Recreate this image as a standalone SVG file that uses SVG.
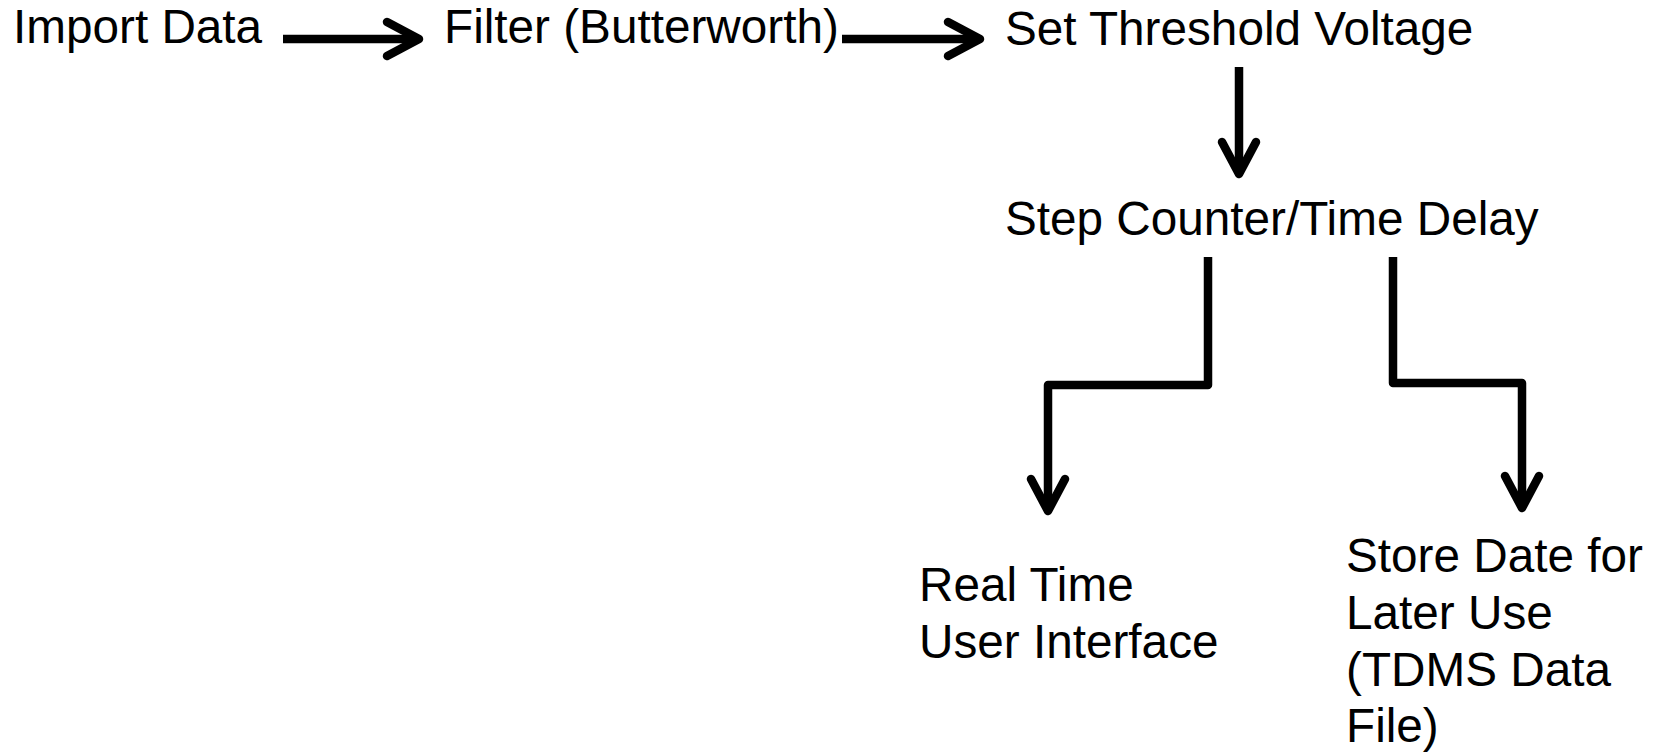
<svg xmlns="http://www.w3.org/2000/svg" width="1660" height="754" viewBox="0 0 1660 754">
<style>
text{font-family:"Liberation Sans",Arial,sans-serif;font-size:47.7px;fill:#000}
.ln{fill:none;stroke:#000;stroke-width:8.5;stroke-linejoin:round;stroke-linecap:butt}
</style>
<defs>
<marker id="chev" markerUnits="userSpaceOnUse" viewBox="-40 -25 50 50" refX="0" refY="0" markerWidth="50" markerHeight="50" orient="auto" overflow="visible">
<path d="M-32 -17 L0 0 L-32 17" fill="none" stroke="#000" stroke-width="8.5" stroke-linecap="round" stroke-linejoin="round"/>
</marker>
</defs>
<rect width="1660" height="754" fill="#fff"/>
<g id="n-import"><text x="13" y="43">Import Data</text></g>
<g id="n-filter"><text x="444" y="43">Filter (Butterworth)</text></g>
<g id="n-threshold"><text x="1005" y="45">Set Threshold Voltage</text></g>
<g id="n-step"><text x="1005" y="235">Step Counter/Time Delay</text></g>
<g id="n-realtime"><text x="919" y="601">Real Time</text><text x="919" y="658">User Interface</text></g>
<g id="n-store"><text x="1346" y="572">Store Date for</text><text x="1346" y="629">Later Use</text><text x="1346" y="686">(TDMS Data</text><text x="1346" y="742">File)</text></g>
<g id="connectors">
<path class="ln" d="M283 39 H419" marker-end="url(#chev)"/>
<path class="ln" d="M842 39 H980" marker-end="url(#chev)"/>
<path class="ln" d="M1239 67 V174" marker-end="url(#chev)"/>
<path class="ln" d="M1208 257 V385 H1048 V511" marker-end="url(#chev)"/>
<path class="ln" d="M1393 257 V383 H1522 V508" marker-end="url(#chev)"/>
</g>
</svg>
